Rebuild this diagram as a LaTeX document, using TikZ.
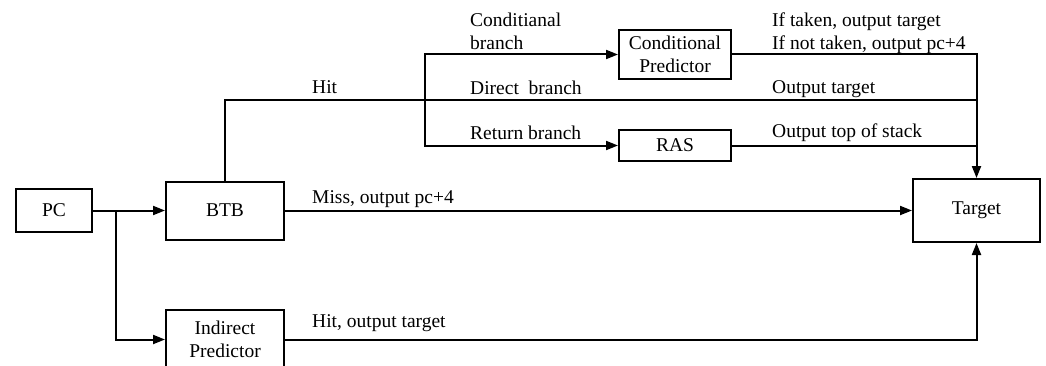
\documentclass[tikz,border=0pt]{standalone}
\usepackage{fontspec}
\setmainfont{Liberation Serif}
\usetikzlibrary{arrows.meta, positioning}

\begin{document}
\begin{tikzpicture}[
    x=1pt, y=1pt,
    font=\fontsize{19.5}{22.5}\selectfont,
    box/.style={rectangle, draw, line width=2pt, align=center, inner sep=2pt},
    lbl/.style={anchor=base west, inner sep=0pt, align=left},
    wire/.style={line width=2pt},
    arr/.style={wire, -{Triangle[length=12pt, width=9pt]}}
]
\useasboundingbox (0,0) rectangle (1046,365);

\node[box, minimum width=76pt, minimum height=43pt] (pc) at (54,154.5) {PC};
\node[box, minimum width=118pt, minimum height=58pt, right=72pt of pc] (btb) {BTB};
\node[box, minimum width=118pt, minimum height=60pt, below=68pt of btb] (ind) {Indirect\\Predictor};
\node[box, minimum width=127pt, minimum height=63pt, right=627pt of btb] (target) {Target};
\node[box, minimum width=112pt, minimum height=49pt] (cond) at (675,310.5) {Conditional\\Predictor};
\node[box, minimum width=112pt, minimum height=31pt, below=49pt of cond] (ras) {RAS};

\coordinate[right=23pt of pc] (split);
\coordinate (fork) at (425,265);
\coordinate (tap) at (target.north |- fork);

\draw[arr] (pc) -- (btb);
\draw[arr] (split) |- (ind.west);
\draw[wire] (btb.north) |- (tap);
\draw[arr] (fork) |- (cond.west);
\draw[arr] (fork) |- (ras.west);
\draw[arr] (cond.east) -| (target.north);
\draw[wire] (ras.east) -- (ras.east -| target.north);
\draw[arr] (btb.east) -- (btb.east -| target.west);
\draw[arr] (ind.east) -| (target.south);

% labels on the wires
\node[lbl] (hitlbl) at (312,272) {Hit};
\node[lbl] (misslbl) at (312,162) {Miss, output pc+4};
\node[lbl] (indlbl) at (312,38) {Hit, output target};
\node[lbl] (condlbl) at (470,316) {Conditianal\\branch};
\node[lbl] (dirlbl) at (470,271) {Direct\ \ branch};
\node[lbl] (retlbl) at (470,226) {Return branch};
\node[lbl] (takenlbl) at (772,316) {If taken, output target\\If not taken, output pc+4};
\node[lbl] (outlbl) at (772,272) {Output target};
\node[lbl] (toslbl) at (772,227.5) {Output top of stack};

\end{tikzpicture}
\end{document}
